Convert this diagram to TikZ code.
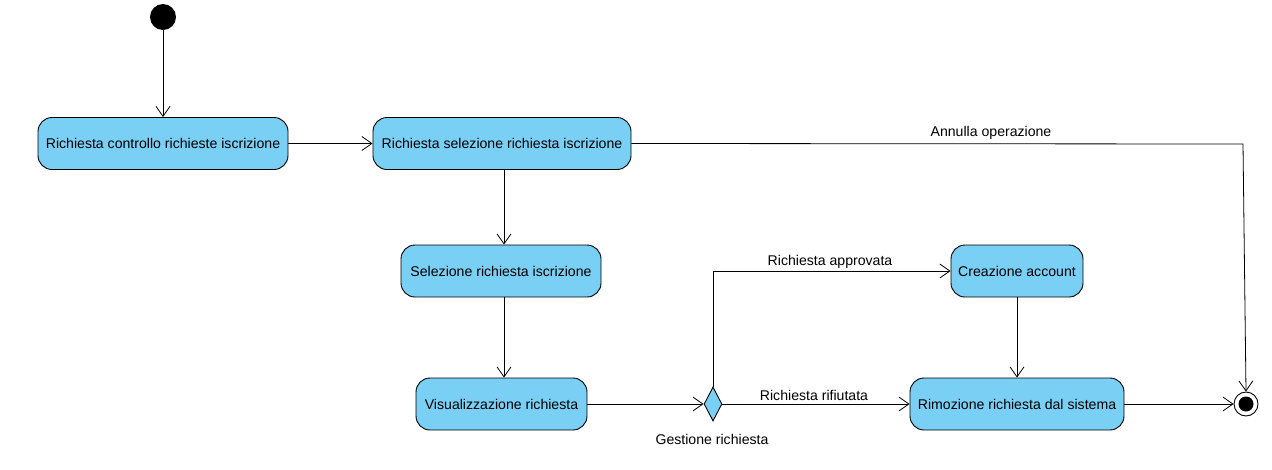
\documentclass[tikz,border=0pt]{standalone}
\usepackage{fontspec}
\setmainfont{Liberation Sans}
\usetikzlibrary{arrows.meta,shapes.geometric}
\definecolor{actfill}{HTML}{7ACFF5}
\begin{document}
\begin{tikzpicture}[x=1pt,y=-1pt,
  act/.style={draw=black,fill=actfill,rounded corners=14pt,line width=0.9pt,minimum height=52pt,inner sep=0pt,font=\fontsize{14.1}{16}\selectfont},
  flow/.style={-{Straight Barb[length=10pt,width=14pt,line width=0.8pt]},line width=0.8pt},
  lbl/.style={font=\fontsize{14.1}{16}\selectfont,inner sep=0pt}]
\useasboundingbox (0,0) rectangle (1272,469);
\node[circle,fill=black,minimum size=26pt,inner sep=0pt] (start) at (163,17) {};
\node[act,minimum width=250pt] (n1) at (163,143.5) {Richiesta controllo richieste iscrizione};
\node[act,minimum width=258pt] (n2) at (502,143.5) {Richiesta selezione richiesta iscrizione};
\node[act,minimum width=200pt] (n3) at (501,271) {Selezione richiesta iscrizione};
\node[act,minimum width=171pt] (n4) at (501.5,404) {Visualizzazione richiesta};
\node[act,minimum width=132pt] (n5) at (1017,271) {Creazione account};
\node[act,minimum width=214pt] (n6) at (1017,404) {Rimozione richiesta dal sistema};
\node[diamond,draw=black,fill=actfill,line width=0.9pt,minimum width=18pt,minimum height=34pt,inner sep=0pt] (d) at (713,404) {};
\node[circle,draw=black,line width=0.9pt,minimum size=24pt,inner sep=0pt] (fin) at (1246,404) {};
\node[circle,fill=black,minimum size=15pt,inner sep=0pt] (finin) at (1246,404) {};
\coordinate (c1) at (1243,144);
\coordinate (c2) at (713,271);
\draw[flow] (start) -- (n1);
\draw[flow] (n1) -- (n2);
\draw[flow] (n2.east) -- (c1) -- (fin.north);
\node[lbl] (l1) at (991,133) {Annulla operazione};
\draw[flow] (n2.south -| 504,0) -- (n3.north -| 504,0);
\draw[flow] (n3.south -| 504,0) -- (n4.north -| 504,0);
\draw[flow] (n4) -- (d);
\draw[flow] (d.north) -- (c2) -- (n5.west);
\node[lbl] (l2) at (830,262) {Richiesta approvata};
\draw[flow] (d.east) -- (n6.west);
\node[lbl] (l3) at (814,395) {Richiesta rifiutata};
\node[lbl] (l4) at (712,439) {Gestione richiesta};
\draw[flow] (n5) -- (n6);
\draw[flow] (n6) -- (fin);
\end{tikzpicture}
\end{document}
